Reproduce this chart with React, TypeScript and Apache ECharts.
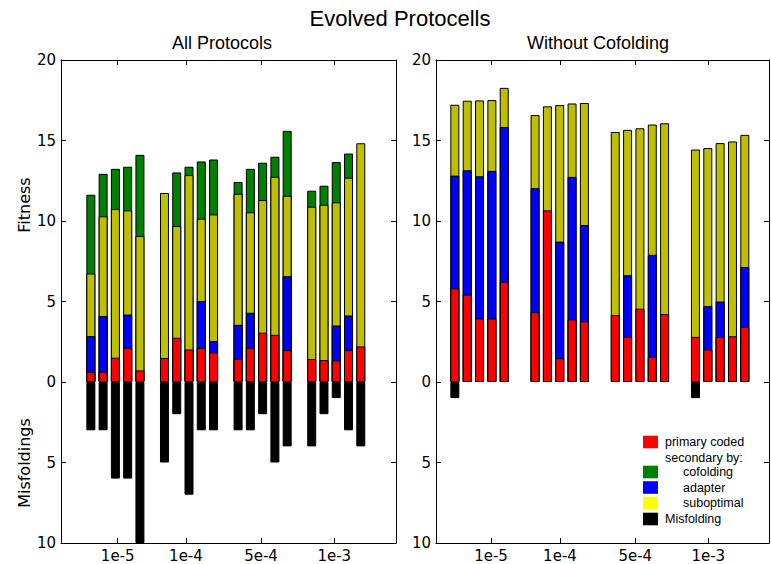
import React, { useEffect, useRef } from "react";
import * as echarts from "echarts";

// ---------- data ----------
const groupLabels = ["1e-5", "1e-4", "5e-4", "1e-3"];
const barsPerGroup = 5;

// Panel "All Protocols": cumulative top of each stacked layer (null = layer absent)
const allPrimaryTop = [
  0.64, 0.64, 1.51, 2.13, 0.72,
  1.49, 2.75, 2.02, 2.11, 1.84,
  1.45, 2.13, 3.06, 2.93, 1.98,
  1.43, 1.36, 1.34, 1.98, 2.21,
];
const allAdapterTop = [
  2.85, 4.09, null, 4.19, null,
  null, null, null, 5.02, 2.54,
  3.55, 4.3, null, null, 6.57,
  null, null, 3.51, 4.13, null,
];
const allSuboptimalTop = [
  6.74, 10.29, 10.74, 10.66, 9.07,
  11.74, 9.69, 12.85, 10.14, 10.41,
  11.69, 10.54, 11.3, 12.75, 11.57,
  10.89, 11.01, 11.16, 12.69, 14.83,
];
const allCofoldingTop = [
  11.63, 12.93, 13.24, 13.37, 14.11,
  null, 13.02, 13.37, 13.7, 13.82,
  12.42, 13.24, 13.62, 13.99, 15.6,
  11.88, 12.19, 13.66, 14.19, null,
];
const allMisfolding = [
  3, 3, 6, 6, 10,
  5, 2, 7, 3, 3,
  3, 3, 2, 5, 4,
  4, 2, 1, 3, 4,
];

// Panel "Without Cofolding"
const woPrimaryTop = [
  5.82, 5.43, 3.95, 3.95, 6.23,
  4.34, 10.66, 1.48, 3.89, 3.77,
  4.16, 2.82, 4.55, 1.56, 4.22,
  2.8, 2.02, 2.8, 2.84, 3.44,
];
const woAdapterTop = [
  12.82, 13.15, 12.78, 13.11, 15.84,
  12.04, null, 8.72, 12.74, 9.75,
  null, 6.63, null, 7.9, null,
  null, 4.71, 5.0, null, 7.14,
];
const woSuboptimalTop = [
  17.22, 17.47, 17.49, 17.51, 18.27,
  16.58, 17.12, 17.2, 17.3, 17.33,
  15.53, 15.66, 15.76, 15.99, 16.07,
  14.44, 14.53, 14.84, 14.94, 15.35,
];
const woCofoldingTop = [
  null, null, null, null, null,
  null, null, null, null, null,
  null, null, null, null, null,
  null, null, null, null, null,
];
const woMisfolding = [
  1, 0, 0, 0, 0,
  0, 0, 0, 0, 0,
  0, 0, 0, 0, 0,
  1, 0, 0, 0, 0,
];

// ---------- styling / layout ----------
const COLORS = {
  primary: "#ff0000",
  adapter: "#0000ff",
  suboptimal: "#bfbf00",
  cofolding: "#008000",
  misfolding: "#000000",
};
const TICK_FONT = "DejaVu Sans";
const TEXT_FONT = "Liberation Sans";

const panels = [
  {
    grid: { left: 61, top: 60, width: 335, height: 483 },
    groupStep: 6,
    xMin: -2.433,
    xMax: 24.87,
    ticks: [2.19, 7.75, 13.87, 19.84],
    primary: allPrimaryTop,
    adapter: allAdapterTop,
    suboptimal: allSuboptimalTop,
    cofolding: allCofoldingTop,
    misfolding: allMisfolding,
  },
  {
    grid: { left: 436, top: 60, width: 333, height: 483 },
    groupStep: 6.5,
    xMin: -1.528,
    xMax: 25.46,
    ticks: [2.93, 8.52, 14.62, 20.54],
    primary: woPrimaryTop,
    adapter: woAdapterTop,
    suboptimal: woSuboptimalTop,
    cofolding: woCofoldingTop,
    misfolding: woMisfolding,
  },
];

function buildOption() {
  const grid: any[] = [];
  const xAxis: any[] = [];
  const yAxis: any[] = [];
  const series: any[] = [];

  panels.forEach((p, pi) => {
    grid.push({ ...p.grid, show: false, containLabel: false });
    const axisLine = { show: true, onZero: false, lineStyle: { color: "#000", width: 1 } };
    const axisTick = { show: true, inside: true, length: 5, lineStyle: { color: "#000", width: 1 } };
    const ticks = p.ticks;
    xAxis.push({
      type: "value",
      gridIndex: pi,
      position: "bottom",
      min: p.xMin,
      max: p.xMax,
      axisLine,
      axisTick: { ...axisTick, customValues: ticks },
      splitLine: { show: false },
      axisLabel: {
        show: true,
        customValues: ticks,
        margin: 5,
        fontFamily: TICK_FONT,
        fontSize: 15,
        color: "#000",
        formatter: (v: number) => {
          const i = ticks.findIndex((t) => Math.abs(t - v) < 1e-6);
          return i >= 0 ? groupLabels[i] : "";
        },
      },
    });
    xAxis.push({
      type: "value",
      gridIndex: pi,
      position: "top",
      min: p.xMin,
      max: p.xMax,
      axisLine,
      axisTick: { ...axisTick, customValues: ticks },
      axisLabel: { show: false },
      splitLine: { show: false },
    });
    yAxis.push({
      type: "value",
      gridIndex: pi,
      position: "left",
      min: -10,
      max: 20,
      interval: 5,
      axisLine,
      axisTick,
      splitLine: { show: false },
      axisLabel: {
        margin: 5,
        fontFamily: TICK_FONT,
        fontSize: 15,
        color: "#000",
        formatter: (v: number) => String(Math.abs(v)),
      },
    });
    yAxis.push({
      type: "value",
      gridIndex: pi,
      position: "right",
      min: -10,
      max: 20,
      interval: 5,
      axisLine,
      axisTick,
      splitLine: { show: false },
      axisLabel: { show: false },
    });

    const n = p.primary.length;
    const xs: number[] = [];
    for (let i = 0; i < n; i++) {
      const g = Math.floor(i / barsPerGroup);
      const b = i % barsPerGroup;
      xs.push(g * p.groupStep + b);
    }
    // Layers are drawn from 0 up to their cumulative top, back to front,
    // so each visible segment spans from the layer below to its own top.
    const mk = (name: string, color: string, values: (number | null)[], sign = 1) => ({
      type: "bar",
      name,
      xAxisIndex: pi * 2,
      yAxisIndex: pi * 2,
      barWidth: 9,
      barGap: "-100%",
      silent: true,
      animation: false,
      itemStyle: { color, borderColor: "#000", borderWidth: 1 },
      data: values.map((v, i) => [xs[i], v == null || v === 0 ? null : sign * v]),
    });
    series.push(mk("cofolding", COLORS.cofolding, p.cofolding));
    series.push(mk("suboptimal", COLORS.suboptimal, p.suboptimal));
    series.push(mk("adapter", COLORS.adapter, p.adapter));
    series.push(mk("primary coded", COLORS.primary, p.primary));
    series.push(mk("Misfolding", COLORS.misfolding, p.misfolding, -1));
  });

  const legendItems = [
    { box: COLORS.primary, text: "primary coded", y: 442, indent: 0 },
    { box: null, text: "secondary by:", y: 457.5, indent: 0 },
    { box: COLORS.cofolding, text: "cofolding", y: 472, indent: 18 },
    { box: COLORS.adapter, text: "adapter", y: 487.5, indent: 18 },
    { box: "#ffff00", text: "suboptimal", y: 503, indent: 18 },
    { box: COLORS.misfolding, text: "Misfolding", y: 519, indent: 0 },
  ];
  const legendEls: any[] = [];
  legendItems.forEach((it) => {
    if (it.box) {
      legendEls.push({
        type: "rect",
        shape: { x: 643, y: it.y - 6.3, width: 15, height: 12.6 },
        style: { fill: it.box },
      });
    }
    legendEls.push({
      type: "text",
      x: 665 + it.indent,
      y: it.y,
      style: {
        text: it.text,
        font: `12.5px "${TEXT_FONT}"`,
        fill: "#000",
        textAlign: "left",
        textVerticalAlign: "middle",
      },
    });
  });

  const textEl = (text: string, x: number, y: number, font: string, rotation = 0) => ({
    type: "text",
    x,
    y,
    rotation,
    style: { text, font, fill: "#000", textAlign: "center", textVerticalAlign: "middle" },
  });

  const graphic: any[] = [
    textEl("Evolved Protocells", 400, 18.5, `22px "${TEXT_FONT}"`),
    textEl("All Protocols", 222, 43, `18px "${TEXT_FONT}"`),
    textEl("Without Cofolding", 598, 43, `18px "${TEXT_FONT}"`),
    textEl("Fitness", 24, 205, `16px "${TICK_FONT}"`, Math.PI / 2),
    textEl("Misfoldings", 24, 463, `16px "${TICK_FONT}"`, Math.PI / 2),
    ...legendEls,
  ];

  return {
    animation: false,
    backgroundColor: "#fff",
    grid,
    xAxis,
    yAxis,
    series,
    graphic,
  };
}

export default function App() {
  const ref = useRef<HTMLDivElement>(null);
  useEffect(() => {
    if (!ref.current) return;
    const chart = echarts.init(ref.current, undefined, { renderer: "svg" });
    chart.setOption(buildOption() as any);
    return () => chart.dispose();
  }, []);
  return (
    <div
      ref={ref}
      style={{ position: "fixed", left: 0, top: 0, width: 771, height: 564, background: "#fff" }}
    />
  );
}
